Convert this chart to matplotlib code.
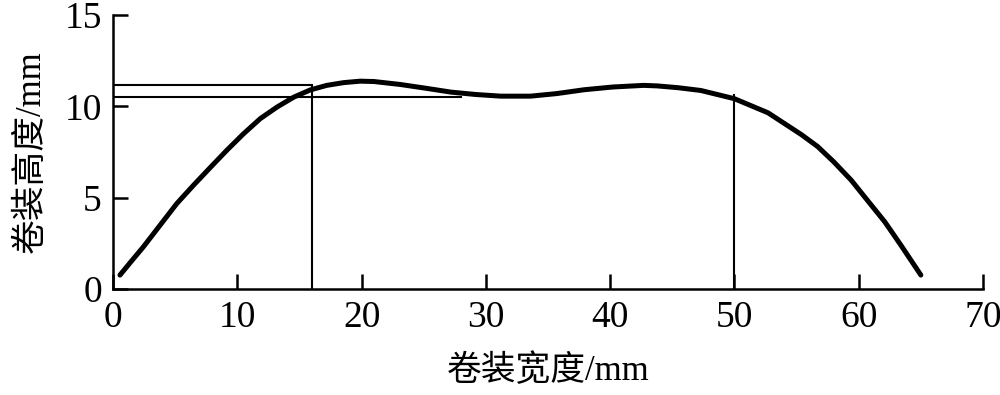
import matplotlib
matplotlib.use("Agg")
import matplotlib.pyplot as plt

width = [0.56, 1.37, 2.44, 3.79, 5.13, 6.47, 7.82, 9.16, 10.5, 11.85, 13.19, 14.53,
         15.87, 17.2, 18.56, 19.9, 21.0, 23.1, 25.1, 27.2, 29.2, 31.2, 33.6, 35.7,
         37.9, 40.2, 42.7, 43.8, 45.5, 47.3, 50.0, 52.7, 55.4, 56.7, 58.0, 59.4,
         60.7, 62.1, 63.4, 65.0]
height = [0.77, 1.44, 2.31, 3.5, 4.68, 5.68, 6.65, 7.6, 8.5, 9.33, 9.96, 10.5,
          10.9, 11.15, 11.3, 11.38, 11.36, 11.2, 11.0, 10.78, 10.65, 10.56, 10.56, 10.7,
          10.91, 11.06, 11.15, 11.12, 11.02, 10.87, 10.42, 9.65, 8.45, 7.8, 6.96, 5.96,
          4.86, 3.68, 2.4, 0.77]

# reference lines
h_upper = 11.15
h_upper_end = 16.0
h_lower = 10.5
h_lower_end = 28.0
v_left_x = 16.0
v_left_top = 11.1
v_right_x = 50.0
v_right_top = 10.6

xticks = [0, 10, 20, 30, 40, 50, 60, 70]
yticks = [0, 5, 10, 15]

plt.rcParams['font.family'] = ['Liberation Serif', 'Noto Sans CJK SC']

fig = plt.figure(figsize=(10, 3.95), dpi=100)
ax = fig.add_axes([0.113, 0.268, 0.870, 0.694])

ax.plot(width, height, color='black', lw=3.6, solid_capstyle='round',
        solid_joinstyle='round')
ax.plot([0, h_upper_end], [h_upper, h_upper], color='black', lw=1.5)
ax.plot([0, h_lower_end], [h_lower, h_lower], color='black', lw=1.5)
ax.plot([v_left_x, v_left_x], [0, v_left_top], color='black', lw=1.5)
ax.plot([v_right_x, v_right_x], [0, v_right_top], color='black', lw=1.5)

ax.set_xlim(0, 70)
ax.set_ylim(0, 15)
ax.set_xticks(xticks)
ax.set_yticks(yticks)
ax.set_xticklabels([str(t) for t in xticks])
ax.set_yticklabels([str(t) for t in yticks])

for s in ['top', 'right']:
    ax.spines[s].set_visible(False)
for s in ['left', 'bottom']:
    ax.spines[s].set_linewidth(1.8)
ax.tick_params(direction='in', length=11, width=1.8, labelsize=27, pad=8)

ax.set_xlabel('卷装宽度/mm', fontsize=25, labelpad=14)
ax.set_ylabel('卷装高度/mm', fontsize=25, labelpad=12)

fig.savefig('out.png', dpi=100)
